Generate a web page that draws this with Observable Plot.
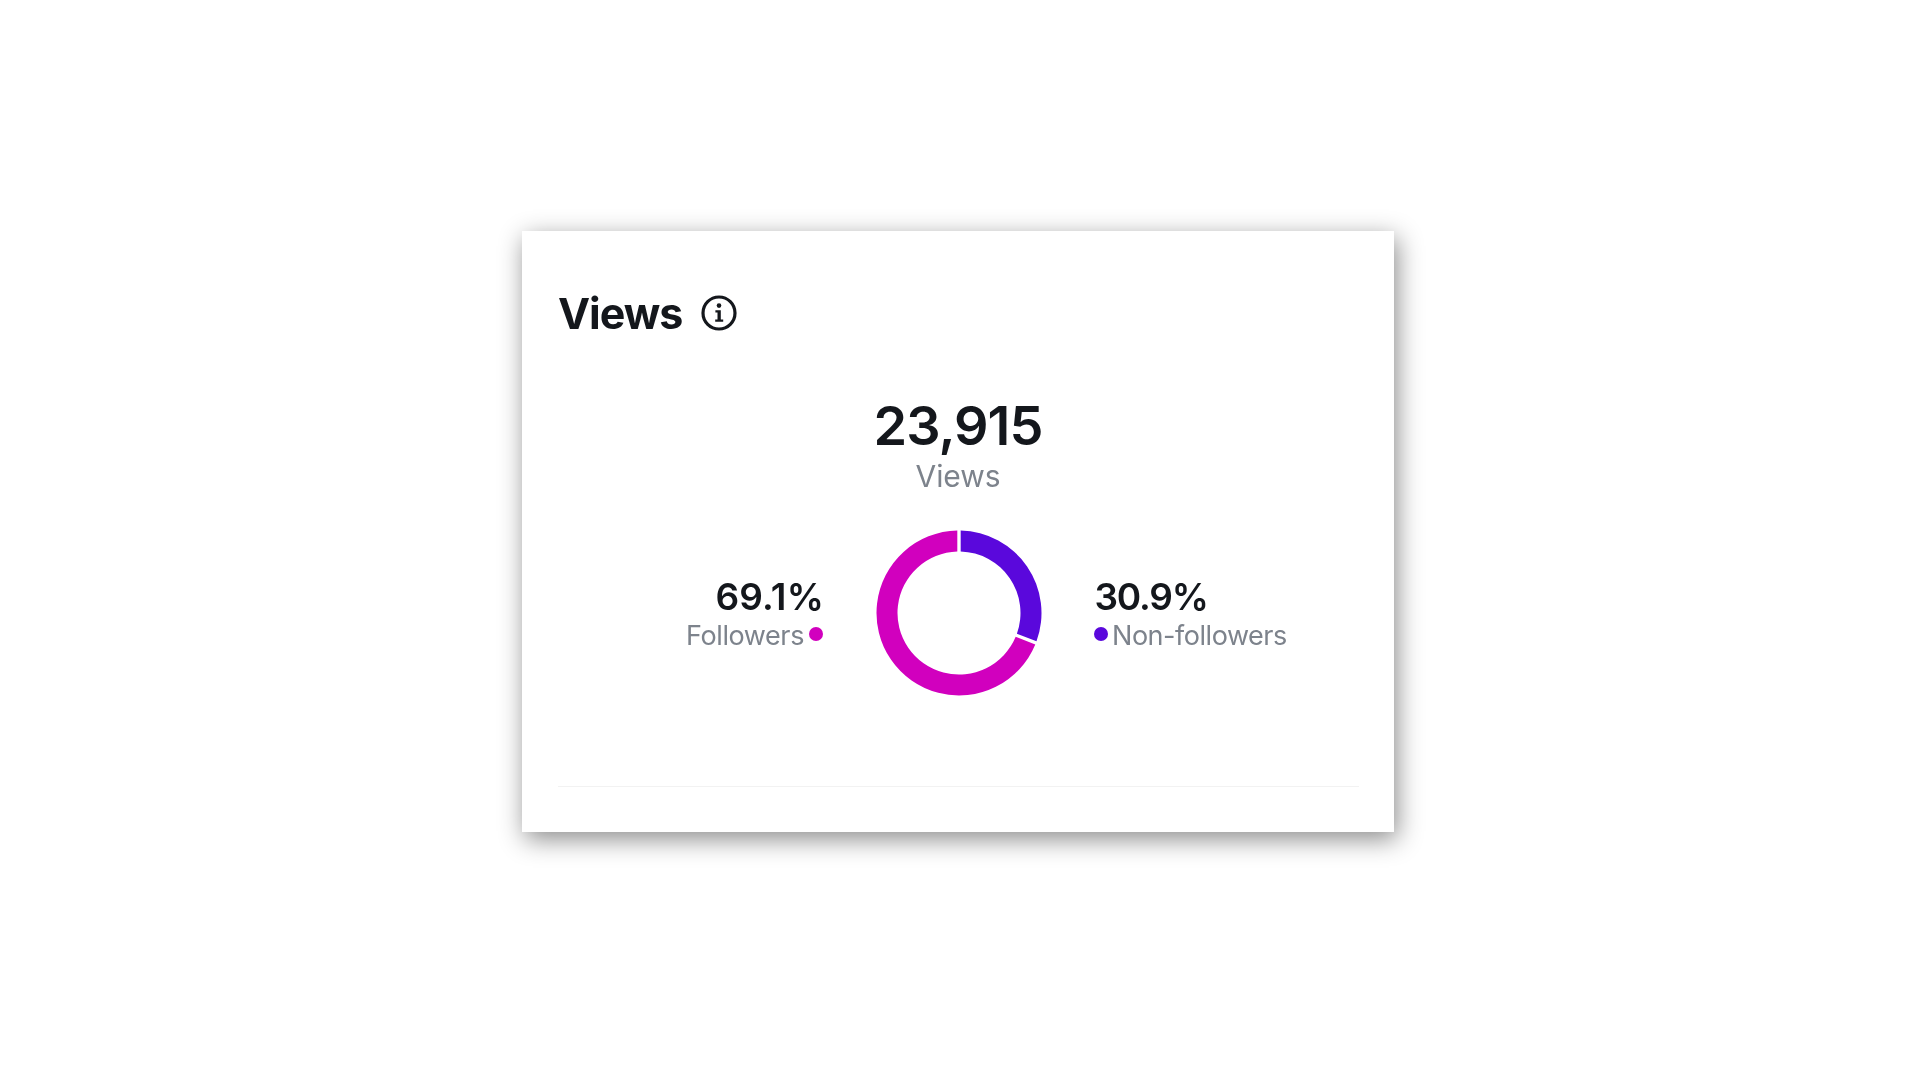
<!DOCTYPE html>
<html>
<head>
<meta charset="utf-8">
<script src="https://cdn.jsdelivr.net/npm/d3@7"></script>
<script src="https://cdn.jsdelivr.net/npm/@observablehq/plot@0.6"></script>
<style>
html,body{margin:0;padding:0;background:#fff;width:1920px;height:1080px;overflow:hidden;font-family:Inter,sans-serif}
#card{position:absolute;left:522px;top:231px;width:872px;height:601px;background:#fff;box-shadow:3px 7px 24px rgba(0,0,0,.46)}
#stage{position:absolute;left:0;top:0;width:1920px;height:1080px;filter:blur(.7px)}
.t{position:absolute;line-height:0;white-space:nowrap}
.dot{position:absolute;border-radius:50%;width:14px;height:14px}
#rule{position:absolute;left:558px;top:786px;width:801px;height:1px;background:#f2f2f2}
#chart{position:absolute;left:858.8px;top:513px}
#chart svg{display:block;background:transparent}
</style>
</head>
<body>
<div id="card"></div>
<div id="stage">
<div id="rule"></div>
<svg style="position:absolute;left:700px;top:294px" width="38" height="38" viewBox="0 0 38 38">
  <circle cx="19" cy="19" r="16" fill="none" stroke="#14171c" stroke-width="3.2"/>
  <circle cx="19" cy="11.6" r="2.3" fill="#14171c"/>
  <path d="M15.4 16.2h5.4v9.2h2.4v2.4h-8v-2.4h2.3v-6.8h-2.1z" fill="#14171c"/>
</svg>
<div id="chart"></div>
</div>
<script>
const categories = ["Non-followers", "Followers"];
const shares = [30.9, 69.1];
const shareLabels = ["30.9%", "69.1%"];
const colors = ["#5a08dc", "#d100be"];
const titleText = "Views";
const totalText = "23,915";
const totalLabel = "Views";

const rows = categories.map((name, i) => ({name, share: shares[i]}));
const stage = document.getElementById("stage");

function label(text, x, baseline, size, weight, color, anchor, spacing) {
  const el = document.createElement("div");
  el.className = "t";
  el.textContent = text;
  el.style.fontSize = size + "px";
  el.style.fontWeight = weight;
  el.style.color = color;
  el.style.letterSpacing = spacing + "px";
  el.style.top = (baseline - 0.3635 * size) + "px";
  el.style.left = x + "px";
  if (anchor === "end") el.style.transform = "translateX(-100%)";
  if (anchor === "middle") el.style.transform = "translateX(-50%)";
  stage.appendChild(el);
}
function legendDot(color, cx, cy) {
  const el = document.createElement("div");
  el.className = "dot";
  el.style.background = color;
  el.style.left = (cx - 7) + "px";
  el.style.top = (cy - 7) + "px";
  stage.appendChild(el);
}

const ink = "#14171c", grey = "#7d838c";
label(titleText, 558, 329, 43, 700, ink, "start", -1);
label(totalText, 958, 446, 54, 620, ink, "middle", -1);
label(totalLabel, 958, 487, 30, 400, grey, "middle", -0.1);
label(shareLabels[1], 824, 610, 37, 620, ink, "end", 0.2);
label(categories[1], 804, 646, 27, 400, grey, "end", -0.4);
legendDot(colors[1], 816, 634);
label(shareLabels[0], 1094.5, 610, 37, 620, ink, "start", -1.2);
label(categories[0], 1112, 646, 27, 400, grey, "start", -0.46);
legendDot(colors[0], 1101, 634);

const plot = Plot.plot({
  width: 200,
  height: 200,
  margin: 0,
  x: {domain: [0, 100], range: [0, 2 * Math.PI], axis: null},
  color: {domain: categories, range: colors},
  marks: [
    Plot.barX(rows, Plot.stackX({
      x: "share",
      fill: "name",
      render(index, scales, values, dimensions) {
        const arc = d3.arc().innerRadius(61.5).outerRadius(82.5)
          .padAngle(0.045).padRadius(75);
        const g = d3.create("svg:g")
          .attr("transform", `translate(${dimensions.width / 2},${dimensions.height / 2})`);
        for (const i of index) {
          g.append("path")
            .attr("fill", values.fill[i])
            .attr("d", arc({startAngle: values.x1[i], endAngle: values.x2[i]}));
        }
        return g.node();
      }
    }))
  ]
});
document.getElementById("chart").appendChild(plot);
</script>
</body>
</html>
